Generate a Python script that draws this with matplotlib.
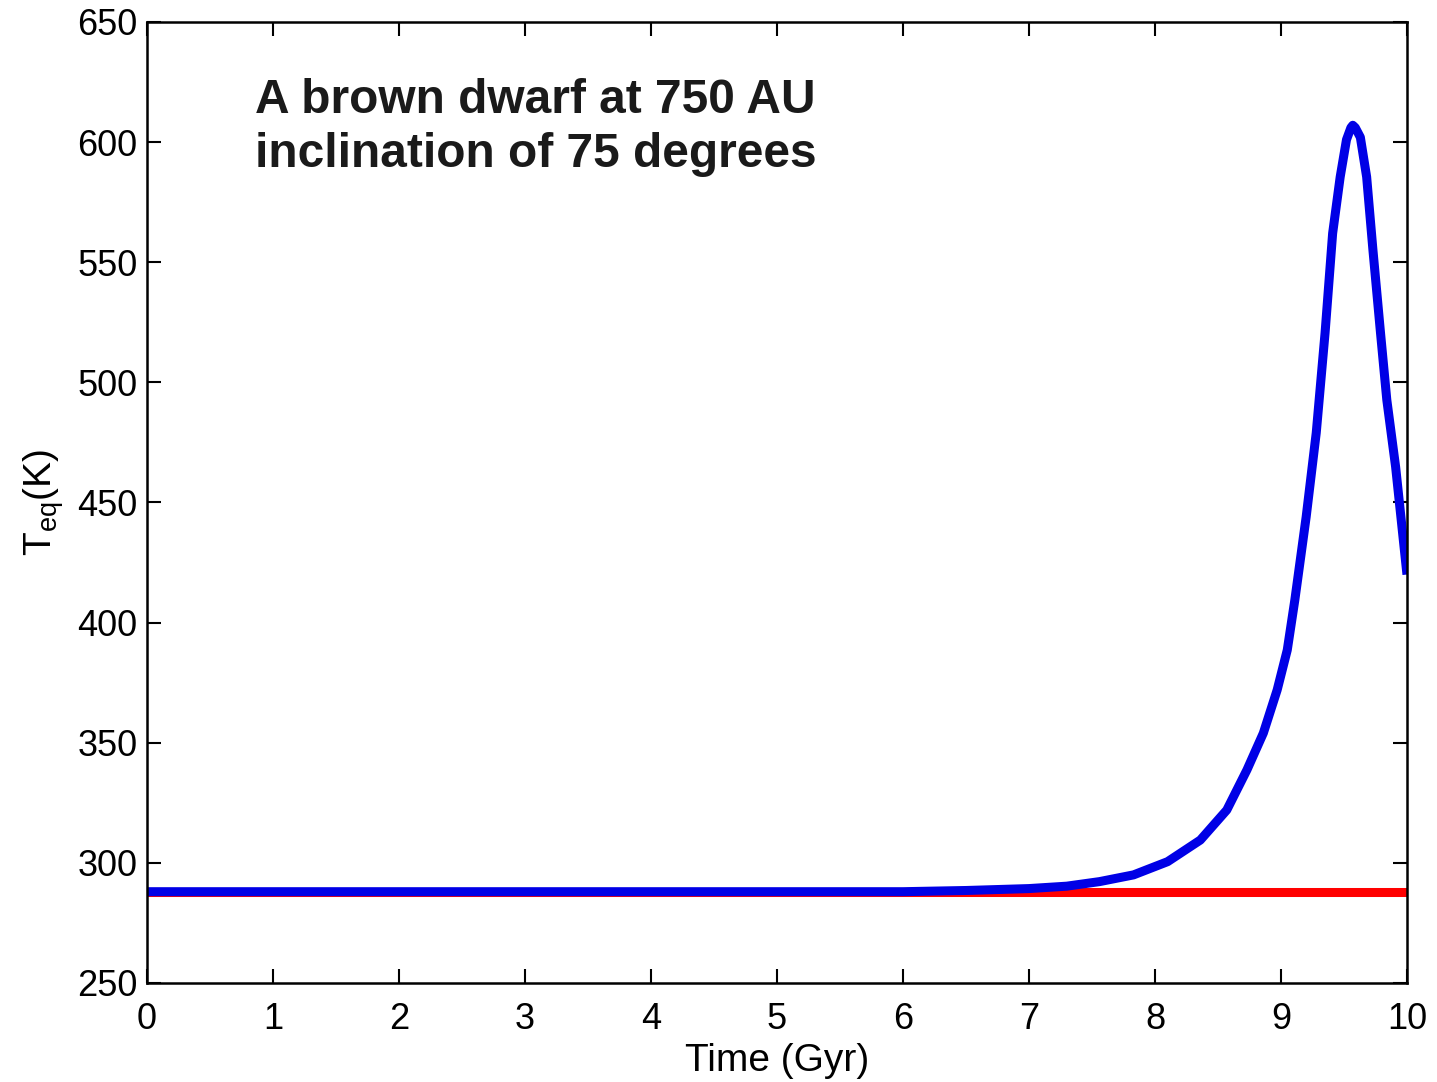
import matplotlib
matplotlib.use("Agg")
import matplotlib.pyplot as plt

plt.rcParams['font.family'] = ['Liberation Sans', 'DejaVu Sans']

time_gyr = [0.0, 1.0, 2.0, 3.0, 4.0, 5.0, 6.0, 6.5, 7.0, 7.3, 7.56, 7.83, 8.1, 8.36,
            8.57, 8.73, 8.86, 8.97, 9.05, 9.11, 9.2, 9.28, 9.35, 9.41, 9.47,
            9.52, 9.555, 9.57, 9.59, 9.63, 9.68, 9.73, 9.79, 9.84, 9.91, 9.98, 10.0]
teq_blue = [288, 288, 288, 288, 288, 288, 288, 288.5, 289.3, 290.3, 292.2, 295, 300.5, 309.5,
            322, 338.7, 354, 372, 388.6, 409.4, 444, 479, 520.6, 562, 585.5,
            601, 606, 607, 606, 602, 585.5, 555, 520.6, 492.7, 464.8, 430, 420]
time_red = [0.0, 10.0]
teq_red = [288, 288]

xticks = list(range(0, 11))
yticks = list(range(250, 651, 50))
title_lines = ['A brown dwarf at 750 AU', 'inclination of 75 degrees']

fig = plt.figure(figsize=(14.37, 10.82), dpi=100)
ax = fig.add_axes([0.1023, 0.0915, 0.8768, 0.8882])
ax.plot(time_red, teq_red, color='#ff0000', lw=6.5, solid_capstyle='butt')
ax.plot(time_gyr, teq_blue, color='#0000e6', lw=6.5, solid_capstyle='butt',
        solid_joinstyle='round')
ax.set_xlim(0, 10)
ax.set_ylim(250, 650)
ax.set_xticks(xticks)
ax.set_yticks(yticks)
ax.tick_params(direction='in', length=10, width=1.5, top=True, right=True,
               labelsize=26)
ax.tick_params(axis='x', pad=14)
ax.tick_params(axis='y', pad=7)
for s in ax.spines.values():
    s.set_linewidth(1.8)
ax.set_xlabel('Time (Gyr)', fontsize=28, labelpad=4)
ax.set_ylabel(r'T$_{\mathregular{eq}}$(K)', fontsize=28, labelpad=8)
for yy, line in zip([0.9053, 0.8491], title_lines):
    ax.text(0.0857, yy, line, transform=ax.transAxes, fontsize=34.5,
            fontweight='bold', va='baseline', ha='left', color='#1a1a1a')
fig.savefig('out.png', dpi=100)
